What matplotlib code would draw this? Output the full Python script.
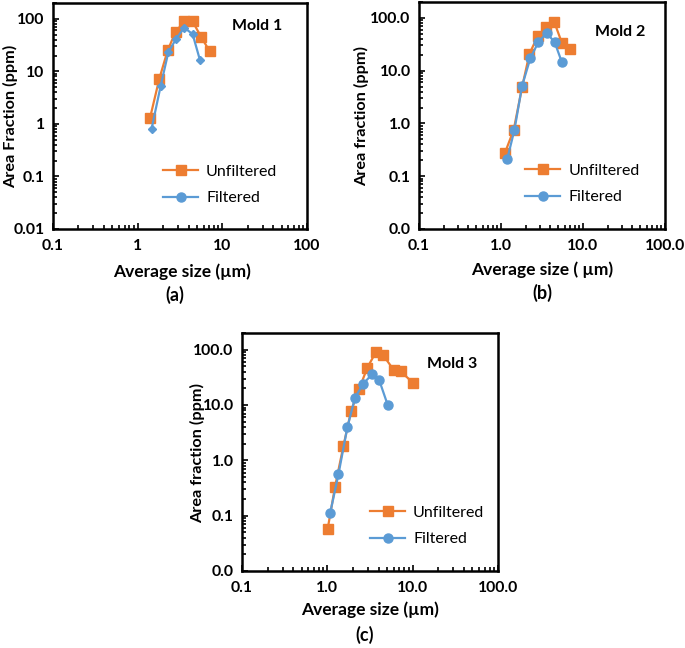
import numpy as np
import matplotlib
matplotlib.use("Agg")
import matplotlib.pyplot as plt
from matplotlib.lines import Line2D

plt.rcParams['font.family'] = ['Lato', 'DejaVu Sans']

W, H = 685, 648
orange = "#ED7D31"
blue = "#5B9BD5"

# data
a_unf_x = [1.40, 1.80, 2.26, 2.81, 3.55, 4.46, 5.58, 7.1]
a_unf_y = [1.3, 7.2, 25, 57, 89, 89, 46, 24]
a_fil_x = [1.46, 1.87, 2.30, 2.83, 3.55, 4.46, 5.44]
a_fil_y = [0.81, 5.3, 23, 41, 68, 51, 16.4]

b_unf_x = [1.11, 1.43, 1.81, 2.22, 2.80, 3.53, 4.47, 5.53, 6.86]
b_unf_y = [0.27, 0.76, 4.9, 20.8, 44.9, 66.5, 82.8, 33.6, 25.8]
b_fil_x = [1.19, 1.46, 1.81, 2.28, 2.85, 3.60, 4.51, 5.53]
b_fil_y = [0.21, 0.76, 5.2, 17.2, 34.6, 52, 34.6, 14.4]

c_unf_x = [1.01, 1.23, 1.54, 1.90, 2.37, 2.94, 3.72, 4.53, 6.03, 7.21, 10.15]
c_unf_y = [0.058, 0.33, 1.79, 7.8, 19.7, 47.3, 90.8, 79, 42.3, 40.6, 25]
c_fil_x = [1.08, 1.35, 1.72, 2.11, 2.64, 3.34, 4.06, 5.09]
c_fil_y = [0.112, 0.56, 4.0, 13.6, 24.3, 35.8, 27.9, 10.1]

x_ticks = [0.1, 1, 10, 100]
y_ticks = [0.01, 0.1, 1, 10, 100]
a_xlabels = ["0.1", "1", "10", "100"]
a_ylabels = ["0.01", "0.1", "1", "10", "100"]
bc_xlabels = ["0.1", "1.0", "10.0", "100.0"]
bc_ylabels = ["0.0", "0.1", "1.0", "10.0", "100.0"]

fig = plt.figure(figsize=(W / 100, H / 100), dpi=100)


def px_axes(l, t, r, b):
    return fig.add_axes([l / W, 1 - b / H, (r - l) / W, (b - t) / H])


def ftext(x, y, s, **kw):
    fig.text(x / W, 1 - y / H, s, ha="center", va="center", **kw)


def setup(ax, xl, yl):
    ax.set_xscale("log")
    ax.set_yscale("log")
    ax.set_xlim(0.1, 100)
    ax.set_ylim(0.01, 200)
    ax.set_xticks(x_ticks)
    ax.set_xticklabels(xl, fontsize=11.3, fontweight="bold")
    ax.set_yticks(y_ticks)
    ax.set_yticklabels(yl, fontsize=11.3, fontweight="bold")
    ax.tick_params(which="both", direction="in", width=1.2)
    ax.tick_params(which="major", length=4, pad=7)
    ax.tick_params(which="minor", length=3)
    ax.tick_params(axis="y", which="major", pad=6)
    for s in ax.spines.values():
        s.set_linewidth(1.8)


def legend(ax, x, y):
    h = [Line2D([], [], color=orange, marker="s", ms=7, lw=1.6),
         Line2D([], [], color=blue, marker="o", ms=6.5, lw=1.6)]
    ax.legend(h, ["Unfiltered", "Filtered"], loc="center left",
              bbox_to_anchor=(x, y), frameon=False, fontsize=11.5,
              handlelength=2.2, handletextpad=0.5, labelspacing=0.75,
              borderpad=0, borderaxespad=0)


# (a)
ax = px_axes(53, 3, 307, 229)
ax.plot(a_unf_x, a_unf_y, color=orange, marker="s", ms=7, lw=1.6)
ax.plot(a_fil_x, a_fil_y, color=blue, marker="D", ms=4.5, lw=1.6)
setup(ax, a_xlabels, a_ylabels)
legend(ax, 0.433, 0.195)
ax.text(0.705, 0.898, "Mold 1", transform=ax.transAxes, fontsize=11.5,
        fontweight="bold", va="center")
ftext(182, 272, "Average size (µm)", fontsize=12.5, fontweight="bold")
ftext(11, 116, "Area Fraction (ppm)", fontsize=11.7, fontweight="bold", rotation=90)
ftext(175, 295, "(a)", fontsize=13, fontweight="bold")

# (b)
ax = px_axes(419, 2, 665, 229)
ax.plot(b_unf_x, b_unf_y, color=orange, marker="s", ms=7, lw=1.6)
ax.plot(b_fil_x, b_fil_y, color=blue, marker="o", ms=6.5, lw=1.6)
setup(ax, bc_xlabels, bc_ylabels)
legend(ax, 0.431, 0.198)
ax.text(0.715, 0.868, "Mold 2", transform=ax.transAxes, fontsize=11.5,
        fontweight="bold", va="center")
ftext(542, 270, "Average size ( µm)", fontsize=12.5, fontweight="bold")
ftext(362, 116, "Area fraction (ppm)", fontsize=11.7, fontweight="bold", rotation=90)
ftext(542, 293, "(b)", fontsize=13, fontweight="bold")

# (c)
ax = px_axes(242, 333, 498, 571)
ax.plot(c_unf_x, c_unf_y, color=orange, marker="s", ms=7, lw=1.6)
ax.plot(c_fil_x, c_fil_y, color=blue, marker="o", ms=6.5, lw=1.6)
setup(ax, bc_xlabels, bc_ylabels)
legend(ax, 0.5, 0.189)
ax.text(0.723, 0.87, "Mold 3", transform=ax.transAxes, fontsize=11.5,
        fontweight="bold", va="center")
ftext(370, 610, "Average size (µm)", fontsize=12.5, fontweight="bold")
ftext(198, 453, "Area fraction (ppm)", fontsize=11.7, fontweight="bold", rotation=90)
ftext(365, 635, "(c)", fontsize=13, fontweight="bold")

plt.savefig("out.png", dpi=100)
